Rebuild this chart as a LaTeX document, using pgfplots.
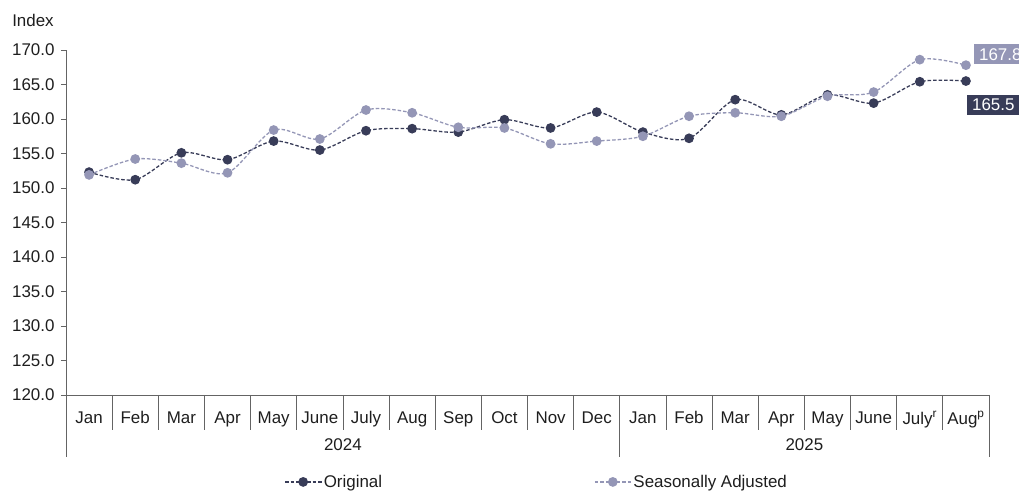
\documentclass[border=0pt]{standalone}
\usepackage{pgfplots}
\pgfplotsset{compat=1.18}
\usepackage{fontspec}
\setmainfont{Liberation Sans}
\definecolor{cDark}{RGB}{56,60,88}
\definecolor{cLight}{RGB}{148,150,182}
\definecolor{cAxis}{RGB}{100,100,100}
\definecolor{cText}{RGB}{30,30,30}
\newcommand{\fs}{\fontsize{17}{20}\selectfont}
\begin{document}
\begin{tikzpicture}[x=1bp,y=1bp]
\path[use as bounding box] (-66,-96) rectangle (953,395);
\begin{axis}[
  at={(0,0)}, anchor=south west,
  width=923bp, height=345bp, scale only axis,
  xmin=-0.5, xmax=19.5, ymin=120, ymax=170,
  axis lines*=left,
  axis line style={cAxis, line width=0.8bp},
  ytick={120,125,...,170},
  yticklabel style={/pgf/number format/fixed, /pgf/number format/fixed zerofill, /pgf/number format/precision=1, /pgf/number format/assume math mode=true, text=cText, font=\fs, xshift=-3bp},
  ytick style={cAxis, line width=0.8bp},
  tick align=outside, major tick length=5bp,
  xtick={0,...,19}, xtick style={draw=none},
  xticklabels={Jan,Feb,Mar,Apr,May,June,July,Aug,Sep,Oct,Nov,Dec,Jan,Feb,Mar,Apr,May,June,July\textsuperscript{r},Aug\textsuperscript{p}},
  xticklabel style={text=cText, font=\fs, yshift=-8bp},
  clip=false,
  legend columns=2,
  legend style={draw=none, fill=none, at={(axis description cs:0.51,-0.252)}, anchor=center,
    font=\fs, text=cText,
    /tikz/every even column/.append style={column sep=210bp}},
  legend image code/.code={\draw[#1, mark repeat=2, mark phase=2] plot coordinates {(0bp,0bp) (18bp,0bp) (36bp,0bp)};},
]
\addplot[cDark, line width=1.3bp, dash pattern=on 3.5bp off 2bp, smooth, mark=*, mark size=4.2bp, mark options={solid, draw=none, fill=cDark}] coordinates {
(0,152.3) (1,151.2) (2,155.1) (3,154.1) (4,156.8) (5,155.5) (6,158.3) (7,158.6) (8,158.1) (9,159.9)
(10,158.7) (11,161.0) (12,158.1) (13,157.2) (14,162.8) (15,160.6) (16,163.5) (17,162.3) (18,165.4) (19,165.5)};
\addlegendentry{Original}
\addplot[cLight, line width=1.3bp, dash pattern=on 3.5bp off 2bp, smooth, mark=*, mark size=4.2bp, mark options={solid, draw=none, fill=cLight}] coordinates {
(0,151.9) (1,154.2) (2,153.6) (3,152.2) (4,158.4) (5,157.1) (6,161.3) (7,160.9) (8,158.8) (9,158.7)
(10,156.4) (11,156.8) (12,157.5) (13,160.4) (14,160.9) (15,160.4) (16,163.3) (17,163.9) (18,168.6) (19,167.8)};
\addlegendentry{Seasonally Adjusted}
% separators
\pgfplotsinvokeforeach{0.5,1.5,2.5,3.5,4.5,5.5,6.5,7.5,8.5,9.5,10.5,12.5,13.5,14.5,15.5,16.5,17.5,18.5} {
  \draw[cAxis, line width=0.8bp] (axis cs:#1,120) -- ++(0bp,-35bp);
}
\pgfplotsinvokeforeach{-0.5,11.5,19.5} {
  \draw[cAxis, line width=0.8bp] (axis cs:#1,120) -- ++(0bp,-62bp);
}
\node[text=cText, font=\fs] at ([yshift=-50bp]axis cs:5.5,120) {2024};
\node[text=cText, font=\fs] at ([yshift=-50bp]axis cs:15.5,120) {2025};
\node[text=cText, font=\fs, anchor=center] at ([xshift=-33bp, yshift=30bp]rel axis cs:0,1) {Index};
% data labels
\node[fill=cLight, text=white, anchor=west, inner xsep=5bp, inner ysep=4bp, font=\fs] at ([xshift=8bp, yshift=11bp]axis cs:19,167.8) {167.8};
\node[fill=cDark, text=white, anchor=west, inner xsep=5bp, inner ysep=4bp, font=\fs] at ([xshift=1bp, yshift=-24bp]axis cs:19,165.5) {165.5};
\end{axis}
\end{tikzpicture}
\end{document}
